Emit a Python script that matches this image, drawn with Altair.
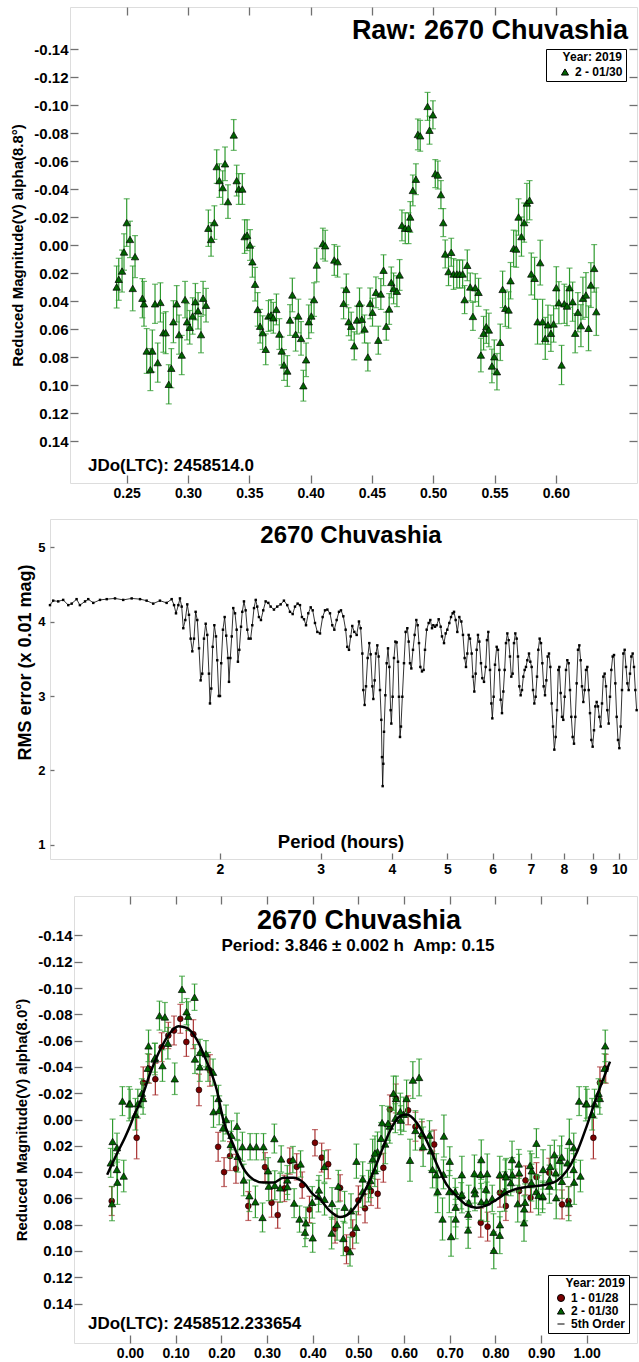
import altair as alt
import pandas as pd

FONT = "Liberation Sans"
GREEN = "#006400"
GREEN_BAR = "#2e9a2e"
RED = "#7a0000"
RED_BAR = "#a83030"
TICK = "#707070"
FRAME = "#1a1a1a"
MINUS = "\u2212"

# ---------------- Panel 1: raw light curve (session 2, 2019-01-30) ----------------
raw_t = [0.2418, 0.2435, 0.2462, 0.2478, 0.2500, 0.2527, 0.2549, 0.2568, 0.2628, 0.2641,
         0.2663, 0.2693, 0.2709, 0.2731, 0.2753, 0.2775, 0.2799, 0.2818, 0.2843, 0.2864,
         0.2881, 0.2908, 0.2927, 0.2949, 0.2976, 0.2992, 0.3014, 0.3038, 0.3060, 0.3082,
         0.3106, 0.3123, 0.3147, 0.3166, 0.3188, 0.3215, 0.3234, 0.3256, 0.3283, 0.3302,
         0.3326, 0.3373, 0.3397, 0.3414, 0.3443, 0.3462, 0.3482, 0.3506, 0.3525, 0.3547,
         0.3568, 0.3588, 0.3609, 0.3634, 0.3656, 0.3677, 0.3696, 0.3721, 0.3745, 0.3764,
         0.3783, 0.3810, 0.3832, 0.3851, 0.3878, 0.3900, 0.3922, 0.3941, 0.3963, 0.3985,
         0.4006, 0.4028, 0.4050, 0.4100, 0.4119, 0.4193, 0.4220, 0.4269, 0.4291, 0.4310,
         0.4331, 0.4356, 0.4378, 0.4399, 0.4418, 0.4440, 0.4467, 0.4486, 0.4505, 0.4533,
         0.4552, 0.4573, 0.4595, 0.4617, 0.4641, 0.4658, 0.4677, 0.4704, 0.4726, 0.4745,
         0.4772, 0.4799, 0.4813, 0.4834, 0.4859, 0.4875, 0.4894, 0.4954, 0.4970, 0.4998,
         0.5017, 0.5038, 0.5063, 0.5082, 0.5098, 0.5125, 0.5147, 0.5166, 0.5193, 0.5215,
         0.5240, 0.5256, 0.5278, 0.5302, 0.5324, 0.5343, 0.5370, 0.5389, 0.5411, 0.5433,
         0.5454, 0.5479, 0.5498, 0.5520, 0.5547, 0.5566, 0.5588, 0.5615, 0.5631, 0.5656,
         0.5677, 0.5696, 0.5720, 0.5742, 0.5764, 0.5786, 0.5800, 0.5827, 0.5851, 0.5873,
         0.5892, 0.5914, 0.5936, 0.5960, 0.5982, 0.6004, 0.6025, 0.6047, 0.6069, 0.6091,
         0.6112, 0.6137, 0.6158, 0.6180, 0.6205, 0.6221, 0.6246, 0.6267, 0.6286, 0.6313,
         0.6330]
raw_mag = [0.030, 0.0245, 0.0186, 0.005, -0.016, -0.004, 0.031, 0.0083, 0.038, 0.042,
           0.0757, 0.089, 0.0757, 0.042, 0.084, 0.041, 0.0626, 0.0626, 0.0995, 0.088,
           0.0548, 0.042, 0.064, 0.0786, 0.039, 0.0548, 0.0588, 0.0507, 0.0405, 0.047,
           0.064, 0.038, 0.043, -0.012, -0.004, -0.016, -0.056, -0.046, -0.041, -0.058,
           -0.031, -0.0786, -0.046, -0.040, -0.040, -0.006, -0.007, 0.000, 0.012, 0.028,
           0.046, 0.058, 0.0626, 0.0745, 0.0507, 0.050, 0.052, 0.046, 0.0636, 0.0757,
           0.0857, 0.090, 0.0536, 0.0357, 0.0638, 0.0507, 0.0667, 0.1005, 0.082, 0.0548,
           0.0507, 0.039, 0.0143, -0.001, 0.0005, 0.0107, 0.0119, 0.0417, 0.0317, 0.0548,
           0.058, 0.072, 0.0536, 0.0417, 0.053, 0.060, 0.080, 0.0417, 0.048, 0.0338,
           0.068, 0.035, 0.018, 0.058, 0.0457, 0.0267, 0.031, 0.033, 0.0214, -0.014,
           -0.012, -0.012, -0.020, -0.039, -0.047, -0.079, -0.078, -0.099, -0.082, -0.093,
           -0.051, -0.050, -0.036, -0.016, 0.0064, 0.019, 0.0052, 0.0207, 0.0207, 0.0207,
           0.0207, 0.039, 0.0145, 0.030, 0.051, 0.0305, 0.0338, 0.0786, 0.063, 0.0583,
           0.0607, 0.0864, 0.0798, 0.0905, 0.0695, 0.0317, 0.0452, 0.0464, 0.0255, 0.0024,
           0.0029, -0.020, -0.006, -0.016, -0.030, -0.032, 0.0207, 0.0238, 0.0548, 0.0126,
           0.0548, 0.0667, 0.057, 0.063, 0.0564, 0.0305, 0.0412, 0.0857, 0.042, 0.0436,
           0.0305, 0.0405, 0.063, 0.048, 0.0576, 0.038, 0.0357, 0.0595, 0.0286, 0.0167,
           0.0476]
raw_err = [0.015, 0.015, 0.015, 0.013, 0.017, 0.013, 0.016, 0.015, 0.014, 0.016,
           0.016, 0.015, 0.015, 0.014, 0.014, 0.014, 0.014, 0.015, 0.014, 0.014,
           0.015, 0.013, 0.014, 0.014, 0.013, 0.013, 0.012, 0.013, 0.013, 0.013,
           0.013, 0.012, 0.012, 0.013, 0.012, 0.012, 0.012, 0.012, 0.012, 0.012,
           0.012, 0.011, 0.011, 0.011, 0.011, 0.012, 0.011, 0.011, 0.011, 0.012,
           0.012, 0.012, 0.012, 0.011, 0.011, 0.011, 0.011, 0.011, 0.011, 0.010,
           0.011, 0.011, 0.011, 0.012, 0.012, 0.012, 0.012, 0.011, 0.012, 0.012,
           0.012, 0.012, 0.012, 0.011, 0.011, 0.011, 0.011, 0.011, 0.011, 0.010,
           0.010, 0.010, 0.010, 0.011, 0.010, 0.010, 0.010, 0.011, 0.010, 0.011,
           0.010, 0.011, 0.011, 0.010, 0.011, 0.011, 0.011, 0.011, 0.011, 0.011,
           0.011, 0.011, 0.011, 0.011, 0.011, 0.011, 0.011, 0.010, 0.010, 0.010,
           0.010, 0.010, 0.010, 0.010, 0.010, 0.010, 0.010, 0.011, 0.010, 0.010,
           0.010, 0.010, 0.011, 0.010, 0.010, 0.010, 0.010, 0.012, 0.012, 0.012,
           0.012, 0.012, 0.012, 0.013, 0.013, 0.013, 0.013, 0.013, 0.013, 0.013,
           0.013, 0.013, 0.014, 0.014, 0.014, 0.014, 0.015, 0.015, 0.016, 0.016,
           0.016, 0.015, 0.014, 0.013, 0.013, 0.015, 0.015, 0.014, 0.014, 0.014,
           0.014, 0.014, 0.014, 0.014, 0.015, 0.015, 0.016, 0.016, 0.016, 0.017,
           0.017]

# ---------------- Panel 3: session 1 (2019-01-28), read as phase ----------------
red_phase = [0.0146, 0.029, 0.0416, 0.0555, 0.0693, 0.0839, 0.0964, 0.1102, 0.1234, 0.1387,
             0.151, 0.175, 0.193, 0.206, 0.219, 0.232, 0.259, 0.2956, 0.310, 0.3234,
             0.338, 0.350, 0.365, 0.377, 0.393, 0.405, 0.4197, 0.434, 0.449, 0.460,
             0.474, 0.4876, 0.500, 0.5146, 0.5277, 0.5423, 0.5547, 0.569, 0.582, 0.609,
             0.625, 0.639, 0.666, 0.768, 0.783, 0.810, 0.823, 0.852, 0.866, 0.877,
             0.890, 0.918, 0.946, 0.960]
red_mag = [0.0139, -0.028, -0.0386, -0.0307, -0.055, -0.0639, -0.0677, -0.0766, -0.059, -0.0649,
           -0.0225, -0.0373, 0.0208, 0.040, 0.0278, 0.0375, 0.0658, 0.0362, 0.0633, 0.0727,
           0.0524, 0.0316, 0.036, 0.0499, 0.0684, 0.0177, 0.029, 0.034, 0.083, 0.052,
           0.0987, 0.0873, 0.0615, 0.0676, 0.0544, 0.0565, 0.0367, -0.0077, -0.016, -0.007,
           0.0055, 0.0127, 0.019, 0.0785, 0.0815, 0.0557, 0.0658, 0.0544, 0.0463, 0.0595,
           0.0438, 0.0405, 0.0646, 0.062]
red_err = [0.016, 0.012, 0.011, 0.012, 0.011, 0.010, 0.011, 0.011, 0.011, 0.011,
           0.012, 0.012, 0.011, 0.011, 0.011, 0.011, 0.011, 0.011, 0.011, 0.010,
           0.010, 0.010, 0.010, 0.010, 0.010, 0.010, 0.011, 0.011, 0.011, 0.010,
           0.011, 0.011, 0.011, 0.011, 0.011, 0.011, 0.011, 0.011, 0.011, 0.011,
           0.011, 0.011, 0.011, 0.011, 0.011, 0.011, 0.011, 0.011, 0.011, 0.011,
           0.011, 0.011, 0.011, 0.011]

# 5th-order Fourier fit
fit_phase = [-0.05, -0.03, -0.01, 0.0, 0.01, 0.022, 0.044, 0.066, 0.088, 0.106,
             0.124, 0.146, 0.168, 0.19, 0.204, 0.226, 0.248, 0.27, 0.292, 0.314,
             0.336, 0.358, 0.38, 0.401, 0.416, 0.438, 0.46, 0.482, 0.504, 0.526,
             0.548, 0.569, 0.591, 0.606, 0.628, 0.65, 0.672, 0.693, 0.715, 0.737,
             0.759, 0.781, 0.803, 0.825, 0.847, 0.869, 0.891, 0.912, 0.934, 0.956,
             0.978, 1.0, 1.022, 1.051]
fit_mag = [0.042, 0.027, 0.013, 0.005, -0.004, -0.013, -0.035, -0.053, -0.066, -0.071,
           -0.0697, -0.061, -0.044, -0.0225, 0.0, 0.019, 0.037, 0.0456, 0.048, 0.048,
           0.0443, 0.0443, 0.048, 0.057, 0.0608, 0.0696, 0.0742, 0.0709, 0.0608, 0.0456,
           0.0266, 0.0089, -0.0025, -0.0038, 0.0025, 0.0165, 0.0342, 0.0494, 0.0582, 0.065,
           0.0671, 0.0653, 0.0608, 0.0557, 0.0527, 0.0514, 0.0506, 0.0494, 0.0468, 0.0392,
           0.0253, 0.005, -0.0174, -0.044]

# ---------------- Panel 2: period spectrum ----------------
period_h = [1.008, 1.021, 1.042, 1.063, 1.085, 1.100, 1.122, 1.137, 1.161, 1.176,
            1.200, 1.233, 1.267, 1.310, 1.354, 1.401, 1.449, 1.488, 1.528, 1.570,
            1.613, 1.646, 1.662, 1.675, 1.691, 1.702, 1.714, 1.725, 1.739, 1.753,
            1.765, 1.777, 1.789, 1.801, 1.813, 1.825, 1.838, 1.850, 1.862, 1.875,
            1.888, 1.900, 1.913, 1.921, 1.931, 1.942, 1.955, 1.968, 1.978, 1.990,
            2.000, 2.010, 2.024, 2.038, 2.051, 2.066, 2.074, 2.085, 2.097, 2.110,
            2.125, 2.139, 2.150, 2.162, 2.177, 2.188, 2.203, 2.218, 2.233, 2.245,
            2.263, 2.278, 2.294, 2.310, 2.324, 2.340, 2.359, 2.381, 2.404, 2.430,
            2.453, 2.486, 2.519, 2.554, 2.588, 2.623, 2.652, 2.681, 2.706, 2.735,
            2.761, 2.783, 2.806, 2.829, 2.855, 2.883, 2.906, 2.933, 2.961,
            2.993, 3.025, 3.054, 3.083, 3.116, 3.145, 3.171, 3.201, 3.231, 3.257,
            3.288, 3.319, 3.341, 3.364, 3.387, 3.409, 3.437, 3.470, 3.502, 3.526,
            3.550, 3.564, 3.583, 3.603, 3.627, 3.651, 3.671, 3.696, 3.711, 3.731,
            3.751, 3.771, 3.791, 3.812, 3.832, 3.843, 3.853, 3.863, 3.874, 3.895,
            3.916, 3.937, 3.958, 3.979, 3.990, 4.011, 4.033, 4.055, 4.077, 4.099,
            4.115, 4.132, 4.148, 4.171, 4.199, 4.227, 4.256, 4.279, 4.302, 4.325,
            4.354, 4.383, 4.413, 4.437, 4.461, 4.485, 4.515, 4.545, 4.570, 4.601,
            4.638, 4.669, 4.701, 4.726, 4.758, 4.790, 4.829, 4.868, 4.894, 4.934,
            4.967, 5.000, 5.041, 5.075, 5.109, 5.137, 5.171, 5.206, 5.248, 5.291,
            5.326, 5.362, 5.391, 5.420, 5.449, 5.479, 5.516, 5.545, 5.575, 5.605,
            5.628, 5.658, 5.689, 5.727, 5.758, 5.797, 5.836, 5.867, 5.899, 5.939,
            5.971, 5.995, 6.027, 6.060, 6.101, 6.133, 6.166, 6.200, 6.233, 6.267,
            6.300, 6.334, 6.369, 6.403, 6.437, 6.472, 6.507, 6.542, 6.577, 6.613,
            6.648, 6.684, 6.720, 6.756, 6.793, 6.829, 6.866, 6.903, 6.950, 6.987,
            7.025, 7.063, 7.101, 7.139, 7.178, 7.216, 7.255, 7.294, 7.334, 7.373,
            7.413, 7.453, 7.493, 7.533, 7.574, 7.615, 7.656, 7.697, 7.739, 7.780,
            7.822, 7.854, 7.896, 7.939, 7.981, 8.024, 8.068, 8.111, 8.155, 8.199,
            8.243, 8.287, 8.332, 8.377, 8.422, 8.468, 8.513, 8.559, 8.605, 8.652,
            8.698, 8.745, 8.792, 8.840, 8.887, 8.935, 8.983, 9.032, 9.080, 9.129,
            9.178, 9.228, 9.278, 9.328, 9.378, 9.428, 9.479, 9.530, 9.582, 9.633,
            9.685, 9.738, 9.790, 9.843, 9.896, 9.949, 10.003, 10.057, 10.111, 10.165,
            10.220, 10.275, 10.331, 10.386, 10.442, 10.498, 10.555, 10.612, 10.669, 10.726]
rms_value = [4.22, 4.28, 4.27, 4.29, 4.22, 4.24, 4.30, 4.22, 4.27, 4.30,
             4.25, 4.29, 4.30, 4.31, 4.29, 4.31, 4.30, 4.28, 4.24, 4.28,
             4.25, 4.30, 4.22, 4.11, 4.22, 4.31, 4.20, 3.91, 4.02, 4.23,
             4.09, 3.77, 3.60, 3.77, 4.13, 4.02, 3.64, 3.21, 3.30, 3.77,
             3.97, 3.82, 3.30, 2.90, 3.10, 3.66, 3.95, 3.80, 3.48, 3.00,
             3.00, 3.44, 3.89, 4.06, 3.81, 3.51, 3.19, 3.51, 3.80, 4.18,
             4.11, 3.89, 3.46, 3.62, 3.93, 4.13, 4.27, 4.15, 3.89, 3.77,
             3.77, 3.95, 4.18, 4.29, 4.20, 4.06, 4.02, 4.15, 4.27, 4.25,
             4.20, 4.16, 4.20, 4.23, 4.28, 4.22, 4.13, 4.10, 4.20, 4.24,
             4.22, 4.06, 4.03, 3.95, 4.11, 4.19, 4.15, 3.98, 3.86,
             3.84, 4.06, 4.15, 4.16, 4.11, 3.95, 3.89, 4.02, 4.13, 4.15,
             4.07, 3.89, 3.66, 3.62, 3.80, 3.94, 3.86, 3.82, 4.00, 3.91,
             3.57, 3.08, 2.88, 3.13, 3.51, 3.71, 3.56, 3.13, 2.96, 3.21,
             3.57, 3.68, 3.53, 3.08, 2.68, 2.18, 1.79, 2.09, 2.52, 3.01,
             3.44, 3.64, 3.39, 2.81, 2.63, 2.99, 3.51, 3.73, 3.72, 3.46,
             2.99, 2.45, 2.59, 2.99, 3.44, 3.86, 3.91, 3.73, 3.44, 3.37,
             3.62, 3.82, 4.02, 3.95, 3.71, 3.39, 3.33, 3.35, 3.62, 3.89,
             3.98, 4.02, 3.91, 3.95, 3.93, 3.95, 4.03, 3.93, 3.80, 3.71,
             3.84, 3.89, 3.98, 4.06, 4.11, 4.13, 4.02, 3.86, 4.06, 4.00,
             3.82, 3.51, 3.39, 3.57, 3.82, 3.77, 3.57, 3.26, 3.06, 3.30,
             3.62, 3.82, 3.73, 3.44, 3.24, 3.19, 3.39, 3.75, 3.86, 3.35,
             2.90, 2.70, 2.99, 3.42, 3.66, 3.62, 3.35, 2.95, 2.77, 3.06,
             3.35, 3.71, 3.84, 3.75, 3.53, 3.26, 3.30, 3.71, 3.84, 3.77,
             3.53, 3.13, 3.01, 3.08, 3.26, 3.35, 3.39, 3.48, 3.57, 3.46,
             3.39, 3.08, 2.90, 2.99, 3.26, 3.62, 3.77, 3.71, 3.44, 3.13,
             3.01, 3.21, 3.53, 3.57, 3.39, 2.90, 2.59, 2.28, 2.45, 2.81,
             3.35, 3.39, 3.04, 2.72, 2.68, 2.99, 3.35, 3.48, 3.44, 3.08,
             2.72, 2.45, 2.36, 2.72, 3.17, 3.62, 3.68, 3.48, 3.13, 2.92,
             3.08, 3.35, 3.39, 3.08, 2.77, 2.41, 2.32, 2.54, 2.86, 2.92,
             2.86, 2.72, 2.59, 2.90, 3.26, 3.30, 3.13, 2.81, 2.63, 2.99,
             3.35, 3.53, 3.55, 3.17, 2.72, 2.41, 2.30, 2.59, 3.08, 3.57,
             3.62, 3.39, 3.17, 3.08, 3.30, 3.53, 3.57, 3.39, 3.08, 2.81]

# ---------------- constants & ticks ----------------
JD_RAW = 2458514.0
JD_EPOCH = 2458512.233654
PERIOD_HOURS = 3.846
DAY_OFFSET = JD_RAW - JD_EPOCH
PERIOD_DAYS = PERIOD_HOURS / 24.0

mag_ticks = [-0.14, -0.12, -0.10, -0.08, -0.06, -0.04, -0.02, 0.0,
             0.02, 0.04, 0.06, 0.08, 0.10, 0.12, 0.14]
raw_ticks = [0.25, 0.30, 0.35, 0.40, 0.45, 0.50, 0.55, 0.60]
phase_ticks = [0.0, 0.1, 0.2, 0.3, 0.4, 0.5, 0.6, 0.7, 0.8, 0.9, 1.0]
period_ticks = [2, 3, 4, 5, 6, 7, 8, 9, 10]
rms_ticks = [1, 2, 3, 4, 5]
sessions = ["1 - 01/28", "2 - 01/30", "5th Order"]


def axis(orient, values, fmt="d", labels=True, title=None, lsize=15, tsize=15,
         title_x=None, title_y=None, lpad=2, tl=8):
    kw = dict(orient=orient, values=values, offset=-tl, tickSize=tl, domain=False,
              grid=False, ticks=True, tickColor=TICK, tickWidth=1.3, labels=labels)
    if not labels:
        kw.update(minExtent=0, maxExtent=0)
    if title is None:
        kw["title"] = None
    else:
        kw.update(title=title, titleFont=FONT, titleFontSize=tsize, titleFontWeight="bold",
                  titleColor="black", titleAngle=270, titleBaseline="middle", titleAlign="center")
        if title_x is not None:
            kw["titleX"] = title_x
        if title_y is not None:
            kw["titleY"] = title_y
    if labels:
        kw.update(labelFont=FONT, labelFontSize=lsize, labelFontWeight="bold", labelColor="black",
                  labelPadding=lpad, labelOverlap=False, labelFlush=False,
                  labelExpr=f"replace(format(datum.value, '{fmt}'), '{MINUS}', '-')")
    return alt.Axis(**kw)


def legend(x, y, sym_offset):
    return alt.Legend(title="Year: 2019", orient="none", legendX=x, legendY=y, direction="vertical",
                      titleFont=FONT, titleFontSize=12, titleFontWeight="bold", titleColor="black",
                      titleAnchor="end", titlePadding=2, labelFont=FONT, labelFontSize=12,
                      labelFontWeight="bold", labelColor="black", symbolSize=50,
                      symbolStrokeColor="black", symbolStrokeWidth=1, strokeColor="black",
                      fillColor="white", padding=3, rowPadding=1, labelOffset=4,
                      symbolOffset=sym_offset)


one = pd.DataFrame({"k": [0]})


def text(s, x, y, size, align="left", color="black"):
    return alt.Chart(one).mark_text(text=s, font=FONT, fontSize=size, fontWeight="bold",
                                    align=align, baseline="middle", color=color).encode(
        x=alt.value(x), y=alt.value(y))


def spacer(w):
    return alt.Chart(one).mark_point(opacity=0, size=1).encode(
        x=alt.value(1), y=alt.value(5)).properties(
        width=w, height=10, view=alt.ViewBackground(stroke="transparent"))


# ---------------- Panel 1 ----------------
raw_df = pd.DataFrame({"t": raw_t, "mag": raw_mag, "err": raw_err})
raw_df["session"] = "2 - 01/30"

x1 = alt.Scale(domain=[0.20375, 0.66623], nice=False, zero=False)
ymag = alt.Scale(domain=[-0.17, 0.17], reverse=True, nice=False, zero=False)

b1 = alt.Chart(raw_df).transform_calculate(lo="datum.mag - datum.err", hi="datum.mag + datum.err")
bars1 = b1.mark_rule(color=GREEN_BAR, strokeWidth=1.2).encode(
    x=alt.X("t:Q", scale=x1, axis=axis("top", raw_ticks, labels=False)),
    y=alt.Y("lo:Q", scale=ymag, axis=axis("right", mag_ticks, labels=False)),
    y2="hi:Q")
caps1 = b1.transform_fold(["lo", "hi"], as_=["end", "yv"]).mark_tick(
    orient="horizontal", size=6, thickness=1.2, color=GREEN_BAR).encode(
    x=alt.X("t:Q", scale=x1, axis=None), y=alt.Y("yv:Q", scale=ymag, axis=None))
leg1 = legend(476, 42, 10)
pts1 = alt.Chart(raw_df).mark_point(filled=True, size=55, stroke="black", strokeWidth=0.7,
                                    opacity=1).encode(
    x=alt.X("t:Q", scale=x1, axis=axis("bottom", raw_ticks, ".2f", lsize=14, lpad=3)),
    y=alt.Y("mag:Q", scale=ymag, axis=axis("left", mag_ticks, ".2f",
                                            title="Reduced Magnitude(V) alpha(8.8°)", title_x=-61)),
    color=alt.Color("session:N", scale=alt.Scale(domain=["2 - 01/30"], range=[GREEN]), legend=leg1),
    shape=alt.Shape("session:N", scale=alt.Scale(domain=["2 - 01/30"], range=["triangle-up"]),
                    legend=leg1))
panel1 = alt.layer(
    bars1, caps1, pts1,
    text("Raw: 2670 Chuvashia", 558, 24, 27, align="right"),
    text("JDo(LTC): 2458514.0", 18, 459, 17),
).properties(width=567, height=476)

# ---------------- Panel 2 ----------------
per_df = pd.DataFrame({"P": period_h, "rms": rms_value})
x2 = alt.Scale(type="log", domain=[1.008, 10.741], nice=False)
y2s = alt.Scale(domain=[0.812, 5.376], nice=False, zero=False)
line2 = alt.Chart(per_df).mark_line(
    color="black", strokeWidth=0.8,
    point=alt.OverlayMarkDef(shape="square", size=6, filled=True, color="black", opacity=1)).encode(
    x=alt.X("P:Q", scale=x2, axis=axis("bottom", period_ticks, "d", lsize=14, lpad=3, tl=6)),
    y=alt.Y("rms:Q", scale=y2s, axis=axis("left", rms_ticks, "d", title="RMS error (x 0.01 mag)",
                                           lsize=13, tsize=18, title_x=-29, title_y=143,
                                           lpad=5, tl=4)))
panel2 = alt.layer(
    line2,
    text("2670 Chuvashia", 301, 17, 24, align="center"),
    text("Period (hours)", 291, 323, 18.5, align="center"),
).properties(width=587, height=340)

# ---------------- Panel 3 ----------------
red_df = pd.DataFrame({"phase": red_phase, "mag": red_mag, "err": red_err})
red_df["session"] = "1 - 01/28"
fit_df = pd.DataFrame({"phase": fit_phase, "mag": fit_mag})

x3 = alt.Scale(domain=[-0.1226, 1.1101], nice=False, zero=False)
col3 = alt.Scale(domain=sessions, range=[RED, GREEN, "black"])
shp3 = alt.Scale(domain=sessions, range=["circle", "triangle-up", "stroke"])
leg3 = legend(474, 379, 4)


def wrapped(chart):
    return (chart.transform_calculate(pm="datum.p0 - 1", pp="datum.p0 + 1")
            .transform_fold(["p0", "pm", "pp"], as_=["copy", "ph"])
            .transform_filter("datum.ph >= -0.05 && datum.ph <= 1.05")
            .transform_calculate(lo="datum.mag - datum.err", hi="datum.mag + datum.err"))


red_base = wrapped(alt.Chart(red_df).transform_calculate(p0="datum.phase"))
green_base = wrapped(alt.Chart(raw_df).transform_calculate(
    p0=f"((datum.t + {DAY_OFFSET:.6f}) / {PERIOD_DAYS:.8f}) % 1"))


def bars3(base, color, mirror=False):
    xa = axis("top", phase_ticks, labels=False) if mirror else None
    ya = axis("right", mag_ticks, labels=False) if mirror else None
    return base.mark_rule(color=color, strokeWidth=1.2).encode(
        x=alt.X("ph:Q", scale=x3, axis=xa), y=alt.Y("lo:Q", scale=ymag, axis=ya), y2="hi:Q")


def caps3(base, color):
    return base.transform_fold(["lo", "hi"], as_=["end", "yv"]).mark_tick(
        orient="horizontal", size=6, thickness=1.2, color=color).encode(
        x=alt.X("ph:Q", scale=x3, axis=None), y=alt.Y("yv:Q", scale=ymag, axis=None))


red_pts = red_base.mark_point(filled=True, size=34, stroke="black", strokeWidth=0.6,
                              opacity=1).encode(
    x=alt.X("ph:Q", scale=x3, axis=axis("bottom", phase_ticks, ".2f", lsize=14, lpad=3)),
    y=alt.Y("mag:Q", scale=ymag, axis=axis("left", mag_ticks, ".2f",
                                            title="Reduced Magnitude(V) alpha(8.0°)", title_x=-61)),
    color=alt.Color("session:N", scale=col3, legend=leg3),
    shape=alt.Shape("session:N", scale=shp3, legend=leg3))
green_pts = green_base.mark_point(filled=True, size=55, stroke="black", strokeWidth=0.7,
                                  opacity=1).encode(
    x=alt.X("ph:Q", scale=x3, axis=None),
    y=alt.Y("mag:Q", scale=ymag, axis=None),
    color=alt.Color("session:N", scale=col3, legend=leg3),
    shape=alt.Shape("session:N", scale=shp3, legend=leg3))
fit_line = alt.Chart(fit_df).mark_line(color="black", strokeWidth=2.5, interpolate="monotone").encode(
    x=alt.X("phase:Q", scale=x3, axis=None), y=alt.Y("mag:Q", scale=ymag, axis=None))

panel3 = alt.layer(
    bars3(red_base, RED_BAR, mirror=True), caps3(red_base, RED_BAR), red_pts,
    bars3(green_base, GREEN_BAR), caps3(green_base, GREEN_BAR), green_pts,
    fit_line,
    text("2670 Chuvashia", 285, 25, 27, align="center"),
    text("Period: 3.846 ± 0.002 h\u00a0\u00a0Amp: 0.15", 284, 50, 17, align="center"),
    text("JDo(LTC): 2458512.233654", 14, 428, 17),
).properties(width=563, height=447)

# ---------------- layout ----------------
row1 = alt.hconcat(spacer(20), panel1, spacing=0, bounds="flush").resolve_scale(
    color="independent", shape="independent")
row3 = alt.hconcat(spacer(24), panel3, spacing=0, bounds="flush").resolve_scale(
    color="independent", shape="independent")

chart = alt.vconcat(row1, panel2, row3, spacing=17).resolve_scale(
    color="independent", shape="independent"
).properties(
    padding={"left": 9, "top": 5, "right": 0, "bottom": 0}
).configure_view(stroke=FRAME, strokeWidth=2).configure(font=FONT, background="white")

chart.save("out.html", embed_options={"renderer": "svg", "actions": False})
